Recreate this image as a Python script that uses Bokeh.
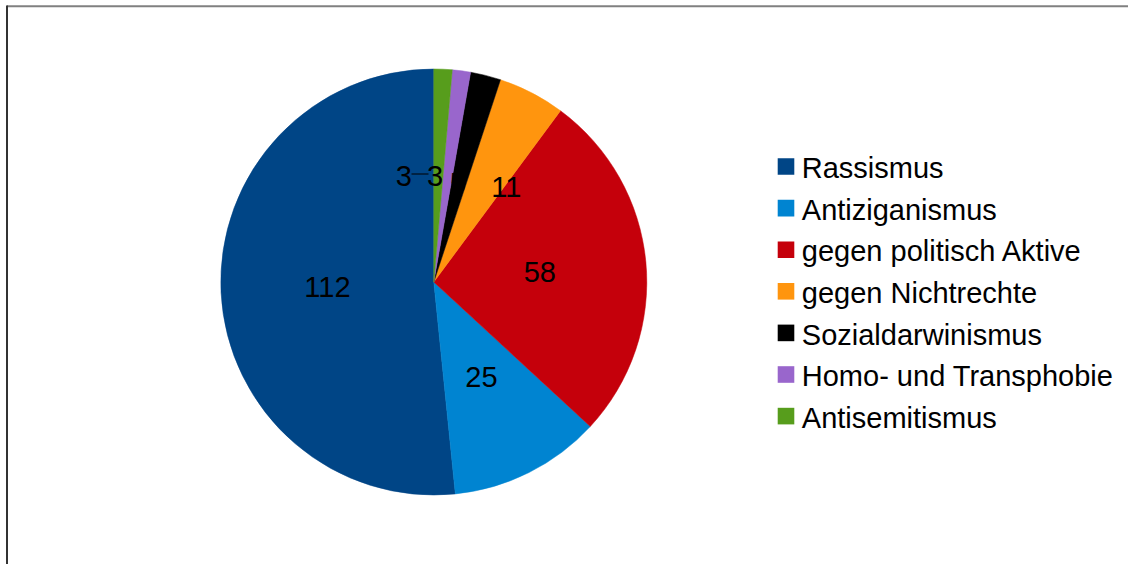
import math
from bokeh.plotting import figure
from bokeh.models import Range1d, ColumnDataSource
from bokeh.core.properties import value
from bokeh.embed import file_html
from bokeh.resources import INLINE

# ---- data ----
categories = ["Rassismus", "Antiziganismus", "gegen politisch Aktive",
              "gegen Nichtrechte", "Sozialdarwinismus",
              "Homo- und Transphobie", "Antisemitismus"]
counts = [112, 25, 58, 11, 5, 3, 3]
colors = ["#004586", "#0084d1", "#c5000b", "#ff950e", "#000000",
          "#9966cc", "#579d1c"]

# ---- layout (screen pixels of the picture) ----
W, H = 1128, 564
def px(sx):
    return sx
def py(sy):
    return H - sy

CX, CY, R = 433.3, 281.5, 213.0
FONT = value("Liberation Sans")
FS = "29px"
# label adjustments for crowded slices (screen px), per slice order
label_dx = [0, 0, 0, 23.5, -2, -12.5, -34.5]
label_dy = [0, 0, 0, 0, 4, 0, 0]

p = figure(width=W, height=H, output_backend="svg", toolbar_location=None,
           x_range=Range1d(0, W), y_range=Range1d(0, H), min_border=0,
           match_aspect=False)
p.axis.visible = False
p.grid.visible = False
p.outline_line_color = None
p.background_fill_color = "white"
p.border_fill_color = "white"

total = float(sum(counts))
starts, ends, lx, ly = [], [], [], []
cum = 0.0
for i, c in enumerate(counts):
    a0 = math.pi / 2 + 2 * math.pi * cum / total
    cum += c
    a1 = math.pi / 2 + 2 * math.pi * cum / total
    starts.append(a0)
    ends.append(a1)
    mid = (a0 + a1) / 2
    sx = CX + (R / 2) * math.cos(mid) + label_dx[i]
    sy = CY - (R / 2) * math.sin(mid) + label_dy[i]
    lx.append(px(sx))
    ly.append(py(sy))

src = ColumnDataSource(dict(start=starts, end=ends, color=colors,
                            lx=lx, ly=ly, txt=[str(c) for c in counts]))
p.wedge(x=px(CX), y=py(CY), radius=R, start_angle="start", end_angle="end",
        fill_color="color", line_color="color", line_width=0.5, source=src)

# leader line for the moved Antisemitismus label
p.segment(x0=[px(411)], y0=[py(173.5)], x1=[px(428)], y1=[py(173.5)],
          line_color="black", line_width=1.2)

p.text(x="lx", y="ly", text="txt", source=src, text_font=FONT,
       text_font_size=FS, text_color="black", text_align="center",
       text_baseline="middle")

# ---- legend ----
row0, step = 166.0, 41.6
sq_x, sq_size = 785.5, 16.6
leg_y = [py(row0 + step * i) for i in range(len(categories))]
leg_t = [py(row0 + step * i + 1.7) for i in range(len(categories))]
lsrc = ColumnDataSource(dict(y=leg_y, yt=leg_t, color=colors, txt=categories))
p.rect(x=px(sq_x), y="y", width=sq_size, height=sq_size, fill_color="color",
       line_color=None, source=lsrc)
p.text(x=px(801.3), y="yt", text="txt", source=lsrc, text_font=FONT,
       text_font_size=FS, text_color="black", text_align="left",
       text_baseline="middle")

# ---- frame lines (top and left edges) ----
p.segment(x0=[px(6.5)], y0=[py(5.8)], x1=[px(W)], y1=[py(5.8)],
          line_color="#808080", line_width=2)
p.segment(x0=[px(6.5)], y0=[py(5)], x1=[px(6.5)], y1=[py(H)],
          line_color="#333333", line_width=2)

open("out.html", "w").write(file_html(p, INLINE))
